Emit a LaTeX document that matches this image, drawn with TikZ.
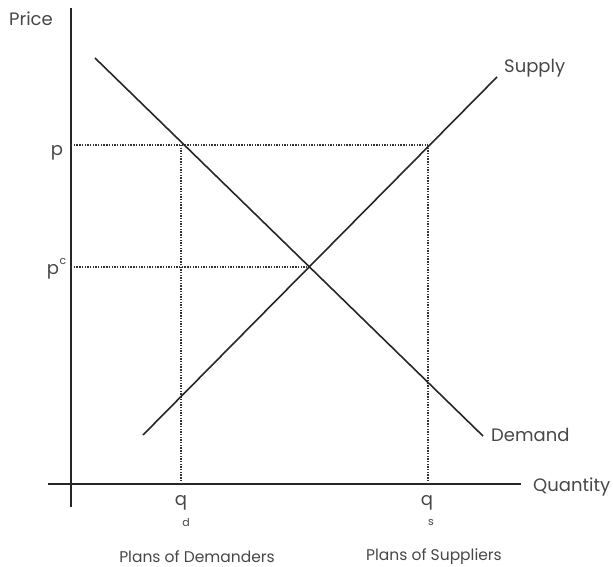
\documentclass[tikz,border=0pt]{standalone}
\usepackage{fontspec}
\setmainfont{Poppins}
\begin{document}
\begin{tikzpicture}[x=1pt,y=-1pt,
  curve/.style={line width=1.6pt,black!85},
  axis/.style={line width=1.6pt,black!85},
  guide/.style={line width=1.6pt,black!80,dash pattern=on 1.4pt off 1.3pt},
  lbl/.style={text=black!72,font=\fontsize{18}{20}\selectfont,inner sep=0pt},
  small/.style={text=black!72,font=\fontsize{15.5}{17}\selectfont,inner sep=0pt},
  tiny/.style={text=black!72,font=\fontsize{11}{13}\selectfont,inner sep=0pt}]
\useasboundingbox (0,0) rectangle (613,567);
% axes
\coordinate (ytop) at (71,8);
\coordinate (ybot) at (71,507);
\coordinate (xl) at (48,484);
\coordinate (xr) at (521,484);
\draw[axis] (ytop) -- (ybot);
\draw[axis] (xl) -- (xr);
% key points
\coordinate (d1) at (95,58);
\coordinate (d2) at (483,436);
\coordinate (s1) at (143,435);
\coordinate (s2) at (497,77);
\coordinate (pa) at (71,145);
\coordinate (pd) at (181,145);
\coordinate (ps) at (428,145);
\coordinate (pca) at (71,267);
\coordinate (eq) at (310,267);
\coordinate (qd) at (181,484);
\coordinate (qs) at (428,484);
% guides
\draw[guide] (pa) -- (ps);
\draw[guide] (pca) -- (eq);
\draw[guide] (pd) -- (qd);
\draw[guide] (ps) -- (qs);
% curves
\draw[curve] (d1) -- (d2);
\draw[curve] (s1) -- (s2);
% labels
\node[lbl] (price) at (31,19) {Price};
\node[lbl] (p) at (57,153) {p};
\node[lbl] (pc) at (53,272) {p};
\node[tiny] (pcc) at (63,261) {c};
\node[lbl,anchor=west] (supply) at (504,68) {Supply};
\node[lbl,anchor=west] (demand) at (491,435) {Demand};
\node[lbl,anchor=west] (quantity) at (533,487) {Quantity};
\node[lbl] (qdl) at (181,503) {q};
\node[tiny] (qdsub) at (186,522) {d};
\node[lbl] (qsl) at (427,503) {q};
\node[tiny] (qssub) at (431,522) {s};
\node[small] (plansd) at (197,557) {Plans of Demanders};
\node[small] (planss) at (434,557) {Plans of Suppliers};
\end{tikzpicture}
\end{document}
